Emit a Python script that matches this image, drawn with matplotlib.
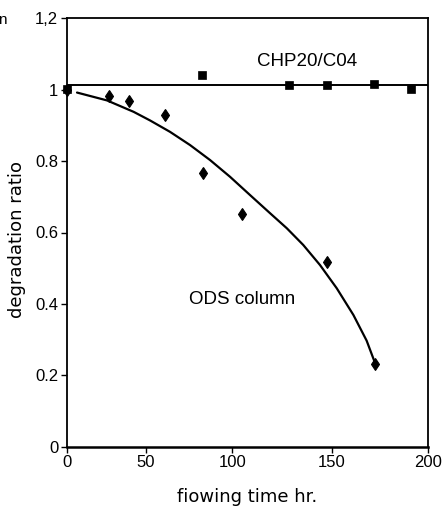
import numpy as np
import matplotlib
matplotlib.use("Agg")
import matplotlib.pyplot as plt

# CHP20/C04 column (squares)
chp_time = [0, 82.6, 128.4, 147.8, 172.2, 191.5]
chp_ratio = [1.001, 1.040, 1.012, 1.012, 1.015, 1.003]
chp_level = 1.014

# ODS column (diamonds)
ods_time = [0, 26.9, 39.5, 61.0, 83.0, 104.7, 147.5, 172.6]
ods_ratio = [1.0, 0.983, 0.968, 0.930, 0.767, 0.653, 0.517, 0.232]

# trend curve for the ODS column
ods_curve_time = [6.5, 25.4, 42.2, 52.3, 63.9, 75.5, 87.1, 98.7, 108.9, 119.0,
                  127.4, 135.7, 144.1, 152.6, 161.3, 168.2, 172.6]
ods_curve_ratio = [0.992, 0.970, 0.938, 0.914, 0.882, 0.845, 0.803, 0.756, 0.705, 0.654,
                   0.612, 0.565, 0.509, 0.444, 0.369, 0.297, 0.234]

x_ticks = [0, 50, 100, 150, 200]
# the original x axis is not evenly spaced, tick positions in pixels from the left spine
x_tick_px = [0, 79.3, 165.6, 265.0, 361.0]
y_ticks = [0, 0.2, 0.4, 0.6, 0.8, 1.0, 1.2]
y_tick_labels = ['0', '0.2', '0.4', '0.6', '0.8', '1', '1,2']


def fwd(x):
    return np.interp(x, x_ticks, x_tick_px)


def inv(p):
    return np.interp(p, x_tick_px, x_ticks)


plt.rcParams['font.family'] = ['Liberation Sans', 'DejaVu Sans']

W, H = 442, 508
fig = plt.figure(figsize=(W / 100, H / 100), dpi=100)
ax = fig.add_axes([66.7 / W, 1 - 446.7 / H, 361.0 / W, 428.4 / H])
ax.set_xscale('function', functions=(fwd, inv))
ax.set_xlim(0, 200)
ax.set_ylim(0, 1.2)

ax.axhline(chp_level, color='black', lw=1.4)
ax.plot(ods_curve_time, ods_curve_ratio, color='black', lw=1.6,
        solid_joinstyle='round', solid_capstyle='round')
ax.plot(chp_time, chp_ratio, 's', color='black', ms=5.8, mew=0.5, clip_on=False)
ax.plot(ods_time, ods_ratio, 'd', color='black', ms=6.0, mew=0.8, clip_on=False)

ax.set_xticks(x_ticks)
ax.set_xticklabels([str(t) for t in x_ticks])
ax.xaxis.set_minor_locator(plt.NullLocator())
ax.set_yticks(y_ticks)
ax.set_yticklabels(y_tick_labels)
ax.tick_params(direction='out', length=4, width=1, labelsize=12, pad=2)
for s in ax.spines.values():
    s.set_linewidth(1.3)
ax.spines['bottom'].set_linewidth(1.8)

ax.text(137.4, 1.078, 'CHP20/C04', fontsize=13.5, ha='center', va='center')
ax.text(104.7, 0.413, 'ODS column', fontsize=13.5, ha='center', va='center')

fig.text(17 / W, 1 - 240 / H, 'degradation ratio', rotation=90, fontsize=13,
         family='DejaVu Sans', ha='center', va='center')
fig.text(247 / W, 1 - 497 / H, 'fiowing time hr.', fontsize=13,
         family='DejaVu Sans', ha='center', va='center')
fig.text(7 / W, 1 - 20 / H, 'n', fontsize=11, ha='right', va='center')

fig.savefig('out.png', dpi=100)
